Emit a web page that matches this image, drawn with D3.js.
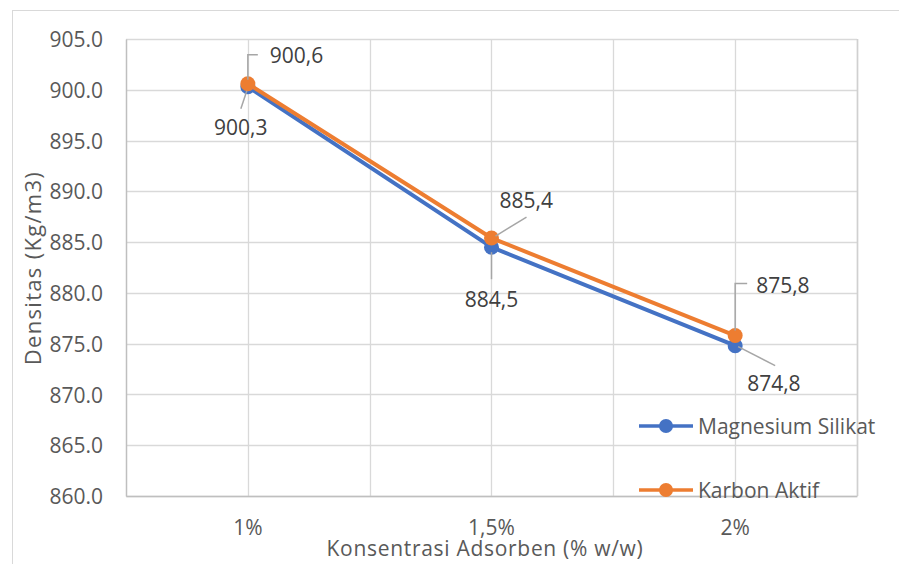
<!DOCTYPE html>
<html><head><meta charset="utf-8">
<script src="https://cdn.jsdelivr.net/npm/d3@7"></script>
<style>
html,body{margin:0;padding:0;background:#fff;}
svg{display:block;font-family:"Open Sans",sans-serif;}
</style></head>
<body>
<svg id="chart" width="899" height="564"></svg>
<script>
const categories = ["1%", "1,5%", "2%"];
const seriesNames = ["Magnesium Silikat", "Karbon Aktif"];
const magnesiumSilikat = [900.3, 884.5, 874.8];
const karbonAktif = [900.6, 885.4, 875.8];
const yTicks = [860, 865, 870, 875, 880, 885, 890, 895, 900, 905];
const colors = ["#4472C4", "#ED7D31"];
const xTitle = "Konsentrasi Adsorben (% w/w)";
const yTitle = "Densitas (Kg/m3)";

const svg = d3.select("#chart");
const textColor = "#595959";
const fs = 21;

// chart border
svg.append("rect").attr("x", 12.5).attr("y", 10.5).attr("width", 900).attr("height", 600)
  .attr("fill", "#fff").attr("stroke", "#d9d9d9").attr("stroke-width", 1);

const L = 126, R = 857, T = 39, B = 496;
const x = d3.scaleBand().domain(categories).range([L, R]).paddingInner(0).paddingOuter(0);
const y = d3.scaleLinear().domain([860, 905]).range([B, T]);
const cx = c => x(c) + x.bandwidth() / 2;

const g = svg.append("g");
// horizontal gridlines
g.selectAll(".hg").data(yTicks).enter().append("line")
  .attr("x1", L).attr("x2", R).attr("y1", d => Math.round(y(d)) + 0.5).attr("y2", d => Math.round(y(d)) + 0.5)
  .attr("stroke", "#d9d9d9").attr("stroke-width", 1.3);
// vertical gridlines: band boundaries and category centers
const vlines = [];
categories.forEach(c => { vlines.push(cx(c)); vlines.push(x(c) + x.bandwidth()); });
g.selectAll(".vg").data(vlines).enter().append("line")
  .attr("x1", d => Math.round(d) + 0.5).attr("x2", d => Math.round(d) + 0.5).attr("y1", T).attr("y2", B)
  .attr("stroke", "#d9d9d9").attr("stroke-width", 1.3);
g.append("line").attr("x1", R + 0.5).attr("x2", R + 0.5).attr("y1", T).attr("y2", B).attr("stroke", "#d0d0d0").attr("stroke-width", 1.5);

// axes
const yAxis = d3.axisLeft(y).tickValues(yTicks).tickSize(0).tickPadding(23).tickFormat(d3.format(".1f"));
const ya = svg.append("g").attr("transform", `translate(${L},0)`).call(yAxis);
ya.select(".domain").attr("stroke", "#bfbfbf").attr("stroke-width", 1.5);
ya.selectAll("text").attr("fill", textColor).style("font-size", fs + "px").style("font-family", "Open Sans").attr("dy", "0.36em");

const xAxis = d3.axisBottom(x).tickSize(0).tickPadding(24);
const xa = svg.append("g").attr("transform", `translate(0,${B})`).call(xAxis);
xa.select(".domain").attr("stroke", "#bfbfbf").attr("stroke-width", 1.5);
xa.selectAll("text").attr("fill", textColor).style("font-size", fs + "px").style("font-family", "Open Sans");

// axis titles
svg.append("text").attr("x", 485).attr("y", 556).attr("text-anchor", "middle")
  .attr("fill", textColor).style("font-size", fs + "px").style("letter-spacing", "0.7px").text(xTitle);
svg.append("text").attr("transform", "translate(41,268) rotate(-90)").attr("text-anchor", "middle")
  .attr("fill", textColor).style("font-size", "22px").style("letter-spacing", "1.3px").text(yTitle);

// lines & markers
const allSeries = [magnesiumSilikat, karbonAktif];
const line = d3.line().x((d, i) => cx(categories[i])).y(d => y(d));
allSeries.forEach((s, k) => {
  svg.append("path").datum(s).attr("d", line).attr("fill", "none")
    .attr("stroke", colors[k]).attr("stroke-width", 4).attr("stroke-linejoin", "round");
  svg.selectAll(".m" + k).data(s).enter().append("circle")
    .attr("cx", (d, i) => cx(categories[i])).attr("cy", d => y(d)).attr("r", 7.5).attr("fill", colors[k]);
});

// data labels with leader lines (offsets relative to point)
const fmt = v => d3.format(".1f")(v).replace(".", ",");
const labelSpecs = [
  [{dx: -7, dy: 41, anchor: "middle", leader: [[-1, 4], [-7, 22]]},
   {dx: 0, dy: 52, anchor: "middle", leader: [[0, 5], [0, 32]]},
   {dx: 12, dy: 38, anchor: "start", leader: [[3, 1], [40, 20]]}],
  [{dx: 22, dy: -28, anchor: "start", leader: [[0, -4], [0, -29], [10, -29]]},
   {dx: 8, dy: -38, anchor: "start", leader: [[4, -2], [35, -21]]},
   {dx: 21, dy: -50, anchor: "start", leader: [[0, -5], [0, -52], [12, -52]]}]
];
allSeries.forEach((s, k) => {
  s.forEach((v, i) => {
    const px = cx(categories[i]), py = y(v), sp = labelSpecs[k][i];
    svg.append("polyline").attr("points", sp.leader.map(p => [px + p[0], py + p[1]].join(",")).join(" "))
      .attr("fill", "none").attr("stroke", "#a6a6a6").attr("stroke-width", 1.5);
    svg.append("text").attr("x", px + sp.dx).attr("y", py + sp.dy).attr("dy", "0.36em")
      .attr("text-anchor", sp.anchor).attr("fill", "#404040").style("font-size", fs + "px").text(fmt(v));
  });
});

// legend
const legY = [426, 490];
seriesNames.forEach((n, k) => {
  const lg = svg.append("g");
  lg.append("line").attr("x1", 639).attr("x2", 693).attr("y1", legY[k]).attr("y2", legY[k])
    .attr("stroke", colors[k]).attr("stroke-width", 3.5);
  lg.append("circle").attr("cx", 666).attr("cy", legY[k]).attr("r", 7).attr("fill", colors[k]);
  lg.append("text").attr("x", 698).attr("y", legY[k]).attr("dy", "0.36em")
    .attr("fill", textColor).style("font-size", fs + "px").text(n);
});
</script>
</body></html>
